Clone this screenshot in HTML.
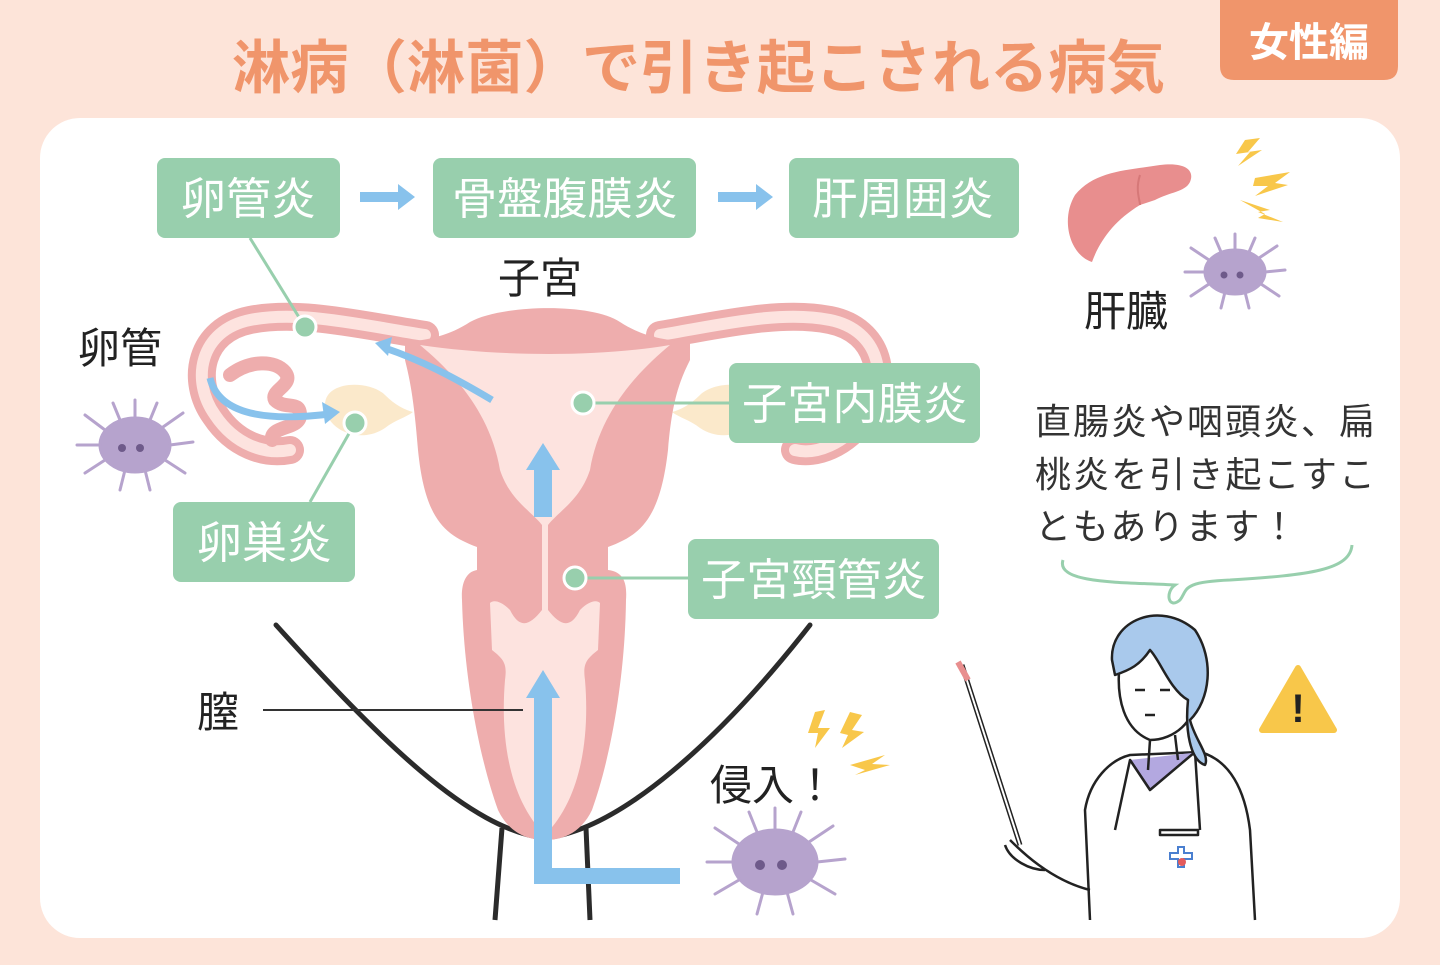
<!DOCTYPE html>
<html><head><meta charset="utf-8">
<style>
html,body{margin:0;padding:0}
body{width:1440px;height:960px;overflow:hidden;background:#fde4d9;font-family:"Liberation Sans","Noto Sans CJK JP",sans-serif;}
svg text{font-family:"Liberation Sans","Noto Sans CJK JP",sans-serif;}
</style></head><body>
<svg width="1440" height="960" viewBox="0 0 1440 960" xmlns="http://www.w3.org/2000/svg">
<rect width="1440" height="960" fill="#fde4d9"/>
<path d="M1220 0 H1398 V66 Q1398 80 1384 80 H1234 Q1220 80 1220 66 Z" fill="#f0956b"/>
<text x="1309" y="56" font-size="40" font-weight="bold" fill="#fff" text-anchor="middle">女性編</text>
<text x="232" y="88" font-size="58" font-weight="bold" fill="#f0956b" textLength="933" lengthAdjust="spacingAndGlyphs">淋病（淋菌）で引き起こされる病気</text>
<rect x="40" y="118" width="1360" height="820" rx="40" fill="#fff"/>

<path d="M276 625 C380 740 470 830 545 838 C620 830 720 740 810 625" fill="none" stroke="#2b2b2b" stroke-width="5" stroke-linecap="round"/>
<path d="M502 828 L495 920 M586 828 L590 920" stroke="#2b2b2b" stroke-width="5" fill="none"/>

<path d="M425 335 C360 325 300 310 250 320 C200 330 190 380 215 415 C235 445 265 455 290 450" fill="none" stroke="#eeadad" stroke-width="28" stroke-linecap="round"/>
<path d="M425 335 C360 325 300 310 250 320 C200 330 190 380 215 415 C235 445 265 455 290 450" fill="none" stroke="#fde3df" stroke-width="12" stroke-linecap="round"/>
<path d="M230 375 C250 360 275 360 285 372 C295 385 270 390 275 400 C285 410 300 400 300 415 C300 430 270 425 272 440" fill="none" stroke="#eeadad" stroke-width="14" stroke-linecap="round"/>
<path d="M660 335 C720 325 780 310 830 320 C880 330 890 380 865 415 C845 445 815 455 795 450" fill="none" stroke="#eeadad" stroke-width="28" stroke-linecap="round"/>
<path d="M660 335 C720 325 780 310 830 320 C880 330 890 380 865 415 C845 445 815 455 795 450" fill="none" stroke="#fde3df" stroke-width="12" stroke-linecap="round"/>
<path d="M325 405 C325 380 370 380 385 395 C395 405 405 410 413 412 C405 418 395 420 385 428 C360 445 325 430 325 405 Z" fill="#fbe9cb"/>
<path d="M760 405 C760 380 715 380 700 395 C690 405 680 410 672 412 C680 418 690 420 700 428 C725 445 760 430 760 405 Z" fill="#fbe9cb"/>

<path d="M405 342 C430 340 450 335 470 322 C500 305 590 302 620 322 C640 335 660 340 690 342 L690 360 C680 380 672 400 668 450 C660 520 640 535 608 547 L608 570 C625 572 627 585 626 600 C625 680 610 760 592 810 C580 835 560 840 545 840 C530 840 510 835 498 810 C480 760 464 680 462 600 C461 585 465 572 477 570 L477 547 C445 535 425 520 418 450 C414 400 410 380 405 360 Z" fill="#eeadad"/>
<path d="M420 345 C500 357 600 357 670 345 C640 370 600 410 590 470 C580 500 560 510 548 525 L548 610 C560 625 570 630 580 610 C590 600 597 600 600 603 L598 650 C585 660 583 665 585 680 C590 740 580 800 545 835 C510 800 500 740 505 680 C507 665 505 660 492 650 L490 603 C493 600 500 600 510 610 C520 630 530 625 542 610 L542 525 C530 510 510 500 500 470 C490 410 450 370 420 345 Z" fill="#fde3df"/>

<path d="M492 400 C450 375 420 360 385 348" fill="none" stroke="#88c2ec" stroke-width="7"/>
<path d="M375 343 L392 337 L388 356 Z" fill="#88c2ec"/>
<path d="M210 378 C220 420 280 420 330 414" fill="none" stroke="#88c2ec" stroke-width="7"/>
<path d="M340 412 L322 402 L325 424 Z" fill="#88c2ec"/>
<path d="M534 517 V470 H526 L543 443 L560 470 H552 V517 Z" fill="#88c2ec"/>
<path d="M680 868 H552 V698 H560 L543 670 L526 698 H534 V884 H680 Z" fill="#88c2ec"/>

<g stroke="#98cfad" stroke-width="3" fill="none">
<path d="M250 238 L305 327"/>
<path d="M355 423 L310 502"/>
<path d="M583 403 H730"/>
<path d="M575 578 H690"/>
</g>
<g fill="#98cfad" stroke="#fff" stroke-width="3">
<circle cx="305" cy="327" r="11"/>
<circle cx="355" cy="423" r="11"/>
<circle cx="583" cy="403" r="11"/>
<circle cx="575" cy="578" r="11"/>
</g>
<line x1="263" y1="710" x2="523" y2="710" stroke="#333" stroke-width="2"/>

<g fill="#98cfad">
<rect x="157" y="158" width="183" height="80" rx="8"/>
<rect x="433" y="158" width="263" height="80" rx="8"/>
<rect x="789" y="158" width="230" height="80" rx="8"/>
<rect x="729" y="363" width="251" height="80" rx="8"/>
<rect x="173" y="502" width="182" height="80" rx="8"/>
<rect x="688" y="539" width="251" height="80" rx="8"/>
</g>
<g fill="#fff" font-size="44">
<text x="181" y="214" textLength="135" lengthAdjust="spacingAndGlyphs">卵管炎</text>
<text x="452" y="214" textLength="226" lengthAdjust="spacingAndGlyphs">骨盤腹膜炎</text>
<text x="812" y="214" textLength="182" lengthAdjust="spacingAndGlyphs">肝周囲炎</text>
<text x="742" y="419" textLength="226" lengthAdjust="spacingAndGlyphs">子宮内膜炎</text>
<text x="197" y="558" textLength="135" lengthAdjust="spacingAndGlyphs">卵巣炎</text>
<text x="701" y="595" textLength="226" lengthAdjust="spacingAndGlyphs">子宮頸管炎</text>
</g>
<path d="M360 192 H398 V184 L415 197 L398 210 V202 H360 Z" fill="#88c2ec"/>
<path d="M718 192 H756 V184 L773 197 L756 210 V202 H718 Z" fill="#88c2ec"/>

<g fill="#222" font-size="42">
<text x="498" y="293">子宮</text>
<text x="78" y="363">卵管</text>
<text x="197" y="727">膣</text>
<text x="1084" y="326">肝臓</text>
<text x="710" y="800">侵入！</text>
</g>
<g fill="#333" font-size="36">
<text x="1035" y="434" textLength="340">直腸炎や咽頭炎、扁</text>
<text x="1035" y="487" textLength="340">桃炎を引き起こすこ</text>
<text x="1035" y="539" textLength="262">ともあります！</text>
</g>
<path d="M1063 560 C1055 585 1130 582 1175 585 C1165 592 1168 610 1180 600 C1188 590 1180 582 1230 580 C1310 575 1350 570 1352 545" fill="none" stroke="#98cfad" stroke-width="3"/>

<!-- liver -->
<path d="M1075 195 C1095 170 1130 170 1160 165 C1185 162 1195 170 1190 182 C1185 192 1170 192 1155 200 L1140 205 C1115 220 1100 240 1092 262 C1070 255 1060 220 1075 195 Z" fill="#e88e8e"/>
<path d="M1140 175 C1135 190 1140 200 1140 205" stroke="#d67878" stroke-width="2" fill="none"/>
<g fill="#f8c74a">
<path d="M1245 140 L1260 138 L1248 152 L1262 150 L1238 166 L1250 152 L1236 154 Z"/>
<path d="M1255 178 L1290 172 L1275 183 L1288 185 L1255 196 L1268 186 L1253 186 Z"/>
<path d="M1240 200 L1270 210 L1258 212 L1283 222 L1258 218 L1265 214 Z"/>
<path d="M815 712 L825 710 L818 728 L830 728 L815 748 L818 733 L808 733 Z"/>
<path d="M850 712 L862 715 L852 730 L864 732 L842 748 L848 735 L840 733 Z"/>
<path d="M850 765 L885 755 L872 764 L890 765 L855 775 L865 770 Z"/>
</g>

<g fill="#b6a3cd" stroke="#b6a3cd" stroke-width="3" stroke-linecap="round">
<g transform="translate(135,445)">
<ellipse cx="0" cy="0" rx="35" ry="27"/>
<path d="M-30 -15 L-50 -30 M-35 0 L-58 0 M-30 15 L-50 28 M-10 25 L-15 45 M10 25 L15 45 M30 15 L50 28 M35 0 L58 -3 M28 -18 L48 -32 M0 -27 L0 -45 M-15 -25 L-22 -42 M15 -25 L22 -42" fill="none"/>
</g>
<g transform="translate(775,862)">
<ellipse cx="0" cy="0" rx="42" ry="32"/>
<path d="M-36 -18 L-60 -34 M-42 0 L-68 0 M-36 18 L-60 32 M-12 30 L-18 52 M12 30 L18 52 M36 18 L60 32 M42 0 L70 -3 M34 -20 L58 -36 M0 -32 L0 -54 M-18 -30 L-26 -50 M18 -30 L26 -50" fill="none"/>
</g>
<g transform="translate(1235,272)">
<ellipse cx="0" cy="0" rx="30" ry="22"/>
<path d="M-26 -12 L-44 -24 M-30 0 L-50 0 M-26 12 L-44 24 M-10 20 L-14 36 M10 20 L14 36 M26 12 L44 24 M30 0 L50 -2 M24 -14 L42 -26 M0 -22 L0 -38 M-14 -20 L-20 -34 M14 -20 L20 -34" fill="none"/>
</g>
</g>
<g fill="#6e5a8a">
<circle cx="122" cy="448" r="4"/><circle cx="140" cy="448" r="4"/>
<circle cx="760" cy="865" r="5"/><circle cx="782" cy="865" r="5"/>
<circle cx="1224" cy="275" r="3.5"/><circle cx="1240" cy="275" r="3.5"/>
</g>

<path d="M1298 668 L1334 730 H1262 Z" fill="#f8c74a" stroke="#f8c74a" stroke-width="6" stroke-linejoin="round"/>
<text x="1298" y="722" font-size="40" font-weight="bold" fill="#222" text-anchor="middle">!</text>

<g stroke="#222" stroke-width="2.5" fill="none" stroke-linejoin="round">
<line x1="962" y1="665" x2="1020" y2="845" stroke-width="5"/>
<line x1="962" y1="665" x2="1020" y2="845" stroke="#fff" stroke-width="2"/>
<path d="M958 662 L968 680" stroke="#e88e8e" stroke-width="6"/>
<path d="M1090 920 L1085 810 C1090 780 1110 760 1130 755 L1200 752 C1230 760 1245 790 1250 830 L1255 920" fill="#fff"/>
<path d="M1130 760 L1150 790 L1175 770 L1200 752" fill="#b3a8e0"/>
<path d="M1115 830 L1130 760 L1150 790 L1195 752 L1200 830" fill="#fff"/>
<path d="M1185 660 C1170 630 1130 630 1120 660 C1115 700 1125 730 1150 740 C1175 740 1195 720 1195 700" fill="#fff"/>
<path d="M1150 740 L1148 770 M1175 735 L1178 760"/>
<path d="M1112 660 C1110 620 1160 600 1195 630 C1215 660 1210 700 1190 720 C1195 740 1210 755 1205 765 C1190 760 1185 730 1188 700 C1170 690 1160 660 1150 650 C1140 665 1130 670 1115 675 Z" fill="#a9c9ec"/>
<path d="M1135 690 h10 M1160 690 h10 M1145 715 h10"/>
<path d="M1010 840 C1020 850 1050 880 1090 890" />
<path d="M1005 845 C1010 860 1030 870 1045 870" />
<rect x="1160" y="830" width="38" height="5"/>
</g>
<path d="M1170 853 h8 v-6 h6 v6 h8 v6 h-8 v8 h-6 v-8 h-8 Z" fill="none" stroke="#4a7fd0" stroke-width="2"/>
<circle cx="1182" cy="862" r="4" fill="#e45b5b"/>
</svg>
</body></html>
